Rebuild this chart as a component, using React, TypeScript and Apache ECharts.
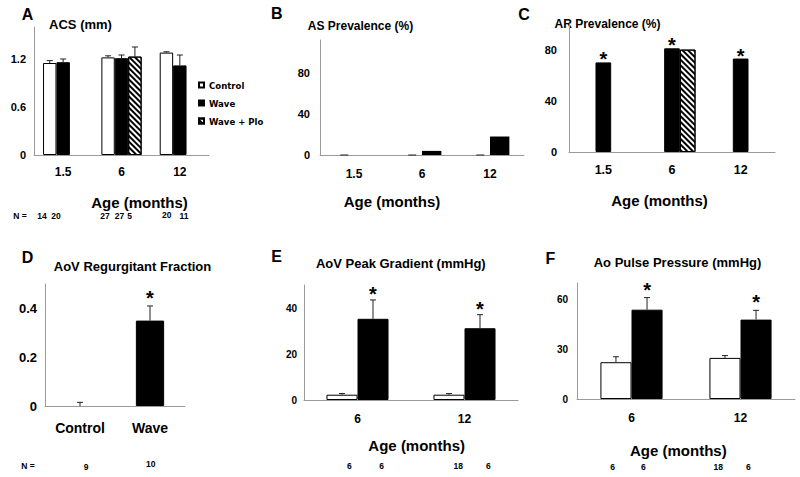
import React, { useEffect, useRef } from 'react';
import * as echarts from 'echarts';

// ---------- data ----------
const ageCats3 = ['1.5', '6', '12'];
const ageCats2 = ['6', '12'];
const groupCats = ['Control', 'Wave'];

// A: ACS (mm)
const acsControl = [1.15, 1.22, 1.28];
const acsControlSem = [0.03, 0.02, 0.01];
const acsWave = [1.16, 1.21, 1.12];
const acsWaveSem = [0.04, 0.04, 0.13];
const acsPlo = [null, 1.23, null];
const acsPloSem = [null, 0.12, null];

// B: AS prevalence (%)
const asControl = [0, 0, 0];
const asWave = [0, 4, 18];

// C: AR prevalence (%)
const arControl = [0, 0, 0];
const arWave = [70, 81, 73];
const arPlo = [null, 80, null];
const arWaveStars = [1, 1, 1];

// D: AoV regurgitant fraction
const rfValues = [0, 0.35];
const rfSem = [0.015, 0.06];
const rfStars = [0, 1];

// E: AoV peak gradient (mmHg)
const pgControl = [2.3, 2.3];
const pgControlSem = [0.5, 0.5];
const pgWave = [35.3, 31.2];
const pgWaveSem = [8.2, 5.9];
const pgWaveStars = [1, 1];

// F: Ao pulse pressure (mmHg)
const ppControl = [22.2, 24.8];
const ppControlSem = [3.3, 1.4];
const ppWave = [53.9, 47.9];
const ppWaveSem = [7.3, 5.6];
const ppWaveStars = [1, 1];

// N labels
const nA = ['14', '20', '27', '27', '5', '20', '11'];
const nD = ['9', '10'];
const nE = ['6', '6', '18', '6'];
const nF = ['6', '6', '18', '6'];

const FONT = '"Liberation Sans", Arial, sans-serif';
const NARROW = '"Liberation Sans Narrow", "DejaVu Sans Condensed", "Liberation Sans", sans-serif';
const AXIS_COLOR = '#9a9a9a';

type Style = 'white' | 'black' | 'blackflat' | 'hatch' | 'none';

const hatchDecal = {
  symbol: 'rect',
  symbolSize: 1,
  color: '#000',
  backgroundColor: '#fff',
  dashArrayX: [1, 0],
  dashArrayY: [1.5, 1.5],
  rotation: Math.PI / 4,
};

function itemStyleFor(s: Style) {
  if (s === 'white') return { color: '#fff', borderColor: '#000', borderWidth: 1 };
  if (s === 'black') return { color: '#000', borderColor: '#000', borderWidth: 1 };
  if (s === 'blackflat') return { color: '#000', borderWidth: 0 };
  if (s === 'hatch') return { color: '#fff', borderColor: '#000', borderWidth: 1, decal: hatchDecal };
  return { color: '#fff', borderWidth: 0 };
}

interface SeriesDef {
  name: string;
  values: (number | null)[];
  sem?: (number | null)[];
  stars?: number[];
  style: Style;
  itemStyles?: Style[];
  cap: number;
  zeroCap?: boolean;
}

interface PanelDef {
  grid: { left: number; top: number; width: number; height: number };
  cats: string[];
  yMax: number;
  yInterval: number;
  decimals: number;
  yLabelSize: number;
  yLabelMargin: number;
  xLabelSize: number;
  xLabelMargin: number;
  gap: number;
  starOff: number;
  series: SeriesDef[];
}

const panels: PanelDef[] = [
  {
    grid: { left: 34, top: 27, width: 175, height: 128 },
    cats: ageCats3, yMax: 1.6, yInterval: 0.6, decimals: 1,
    yLabelSize: 11, yLabelMargin: 8, xLabelSize: 12, xLabelMargin: 11,
    gap: 0.31, starOff: 8,
    series: [
      { name: 'Control', values: acsControl, sem: acsControlSem, style: 'white', cap: 3 },
      { name: 'Wave', values: acsWave, sem: acsWaveSem, style: 'black', cap: 3 },
      { name: 'Wave + Plo', values: acsPlo, sem: acsPloSem, style: 'hatch', cap: 3 },
    ],
  },
  {
    grid: { left: 320, top: 40, width: 204, height: 115 },
    cats: ageCats3, yMax: 112, yInterval: 40, decimals: 0,
    yLabelSize: 11, yLabelMargin: 10, xLabelSize: 12, xLabelMargin: 13,
    gap: 0.43, starOff: 8,
    series: [
      { name: 'B Control', values: asControl, style: 'none', cap: 4, zeroCap: true },
      { name: 'B Wave', values: asWave, style: 'blackflat', cap: 0 },
    ],
  },
  {
    grid: { left: 569, top: 24, width: 206, height: 128 },
    cats: ageCats3, yMax: 100, yInterval: 40, decimals: 0,
    yLabelSize: 11, yLabelMargin: 12, xLabelSize: 12.5, xLabelMargin: 11,
    gap: 0.315, starOff: 7,
    series: [
      { name: 'C Control', values: arControl, style: 'none', cap: 0 },
      { name: 'C Wave', values: arWave, stars: arWaveStars, style: 'black', cap: 0 },
      { name: 'C Wave + Plo', values: arPlo, style: 'hatch', cap: 0 },
    ],
  },
  {
    grid: { left: 45, top: 284, width: 140, height: 122 },
    cats: groupCats, yMax: 0.5, yInterval: 0.2, decimals: 1,
    yLabelSize: 13, yLabelMargin: 8, xLabelSize: 14, xLabelMargin: 15,
    gap: 0.596, starOff: 12,
    series: [
      { name: 'D Fraction', values: rfValues, sem: rfSem, stars: rfStars, style: 'black', itemStyles: ['none', 'black'], cap: 3 },
    ],
  },
  {
    grid: { left: 304, top: 285, width: 214, height: 115 },
    cats: ageCats2, yMax: 50, yInterval: 20, decimals: 0,
    yLabelSize: 10, yLabelMargin: 7, xLabelSize: 12, xLabelMargin: 13,
    gap: 0.42, starOff: 10,
    series: [
      { name: 'E Control', values: pgControl, sem: pgControlSem, style: 'white', cap: 3 },
      { name: 'E Wave', values: pgWave, sem: pgWaveSem, stars: pgWaveStars, style: 'black', cap: 3 },
    ],
  },
  {
    grid: { left: 577, top: 283, width: 218, height: 116 },
    cats: ageCats2, yMax: 70, yInterval: 30, decimals: 0,
    yLabelSize: 10, yLabelMargin: 9, xLabelSize: 12, xLabelMargin: 13,
    gap: 0.43, starOff: 12,
    series: [
      { name: 'F Control', values: ppControl, sem: ppControlSem, style: 'white', cap: 3 },
      { name: 'F Wave', values: ppWave, sem: ppWaveSem, stars: ppWaveStars, style: 'black', cap: 3 },
    ],
  },
];

function txt(text: string, x: number, y: number, size: number, family = FONT, weight = 'bold') {
  return {
    type: 'text',
    x,
    y,
    silent: true,
    style: {
      text,
      fill: '#000',
      fontSize: size,
      fontFamily: family,
      fontWeight: weight,
      align: 'center',
      verticalAlign: 'middle',
    },
  };
}

function buildOption() {
  const grid: any[] = [];
  const xAxis: any[] = [];
  const yAxis: any[] = [];
  const series: any[] = [];

  panels.forEach((p, gi) => {
    grid.push({ ...p.grid, outerBoundsMode: 'none', containLabel: false });
    xAxis.push({
      type: 'category',
      gridIndex: gi,
      data: p.cats,
      axisLine: { lineStyle: { color: AXIS_COLOR, width: 1 } },
      axisTick: { show: false },
      axisLabel: {
        fontFamily: FONT, fontWeight: 'bold', fontSize: p.xLabelSize, color: '#000', margin: p.xLabelMargin,
      },
    });
    yAxis.push({
      type: 'value',
      gridIndex: gi,
      min: 0,
      max: p.yMax,
      interval: p.yInterval,
      splitLine: { show: false },
      axisTick: { show: false },
      axisLine: { show: true, lineStyle: { color: AXIS_COLOR, width: 1 } },
      axisLabel: {
        fontFamily: FONT, fontWeight: 'bold', fontSize: p.yLabelSize, color: '#000', margin: p.yLabelMargin,
        formatter: (v: number) => {
          const k = v / p.yInterval;
          if (Math.abs(k - Math.round(k)) > 1e-6) return '';
          if (v === 0) return '0';
          return v.toFixed(p.decimals);
        },
      },
    });

    const n = p.series.length;
    p.series.forEach((s, si) => {
      series.push({
        type: 'bar',
        name: s.name,
        xAxisIndex: gi,
        yAxisIndex: gi,
        barGap: '0%',
        barCategoryGap: `${p.gap * 100}%`,
        itemStyle: itemStyleFor(s.style),
        data: s.values.map((v, i) =>
          s.itemStyles ? { value: v, itemStyle: itemStyleFor(s.itemStyles[i]) } : v
        ),
      });

      const errData: number[][] = [];
      s.values.forEach((v, i) => {
        if (v == null) return;
        const sem = s.sem ? s.sem[i] || 0 : 0;
        const star = s.stars ? s.stars[i] : 0;
        errData.push([i, v, v + sem, star]);
      });
      const capHalf = s.cap;
      const zeroCap = !!s.zeroCap;
      const gap = p.gap;
      const starOff = p.starOff;
      series.push({
        type: 'custom',
        name: s.name + ' err',
        xAxisIndex: gi,
        yAxisIndex: gi,
        z: 5,
        silent: true,
        data: errData,
        renderItem: (params: any, api: any) => {
          const cat = api.value(0);
          const v = api.value(1);
          const top = api.value(2);
          const star = api.value(3);
          const band = api.size([1, 0])[0];
          const groupW = band * (1 - gap);
          const bw = groupW / n;
          const cx = api.coord([cat, 0])[0] - groupW / 2 + bw * (si + 0.5);
          const yv = api.coord([cat, v])[1];
          const yt = api.coord([cat, top])[1];
          const children: any[] = [];
          const ls = { stroke: '#222', lineWidth: 1 };
          if (top > v) {
            children.push({ type: 'line', shape: { x1: cx, y1: yv, x2: cx, y2: yt }, style: ls });
          }
          if ((top > v || zeroCap) && capHalf > 0) {
            children.push({ type: 'line', shape: { x1: cx - capHalf, y1: yt, x2: cx + capHalf, y2: yt }, style: ls });
          }
          if (star) {
            children.push({
              type: 'text',
              x: cx,
              y: yt - starOff + 4,
              style: {
                text: '*', fill: '#000', fontSize: 20, fontFamily: FONT, fontWeight: 'bold',
                align: 'center', verticalAlign: 'middle',
              },
            });
          }
          return { type: 'group', children };
        },
      });
    });
  });

  const graphic: any[] = [
    // panel letters
    txt('A', 27.5, 14, 16), txt('B', 276.7, 13.5, 16), txt('C', 524, 14, 16),
    txt('D', 27.5, 257.5, 16), txt('E', 276.7, 256, 16), txt('F', 550.3, 258, 16),
    // titles
    txt('ACS (mm)', 80.5, 24, 13), txt('AS Prevalence (%)', 360.5, 26, 12),
    txt('AR Prevalence (%)', 607.5, 24, 12), txt('AoV Regurgitant Fraction', 132.5, 266.7, 13),
    txt('AoV Peak Gradient (mmHg)', 400.8, 263.3, 13), txt('Ao Pulse Pressure (mmHg)', 677.5, 262.3, 13),
    // axis names
    txt('Age (months)', 139.5, 202, 15), txt('Age (months)', 392, 201.7, 15),
    txt('Age (months)', 659.5, 200, 15), txt('Age (months)', 416.7, 445, 15),
    txt('Age (months)', 678.3, 450, 15),
    // N rows
    txt('N =', 20, 216, 8.5), txt('N =', 28, 466, 8.5),
  ];
  const nAx = [42, 56, 105, 119.5, 129.7, 166.7, 184];
  const nAy = [216, 216, 216, 216, 216, 215, 216];
  nA.forEach((t, i) => graphic.push(txt(t, nAx[i], nAy[i], 8.5)));
  const nDx = [86, 150.7];
  const nDy = [467, 464];
  nD.forEach((t, i) => graphic.push(txt(t, nDx[i], nDy[i], 8.5)));
  const nEx = [349.3, 381.7, 458.3, 488.3];
  nE.forEach((t, i) => graphic.push(txt(t, nEx[i], 465.7, 8.5)));
  const nFx = [612.7, 643.3, 718.3, 748.3];
  nF.forEach((t, i) => graphic.push(txt(t, nFx[i], 466.7, 8.5)));

  return {
    animation: false,
    backgroundColor: '#fff',
    grid,
    xAxis,
    yAxis,
    series,
    graphic,
    legend: {
      orient: 'vertical',
      left: 193,
      top: 75,
      itemWidth: 5,
      itemHeight: 5,
      itemGap: 8,
      icon: 'rect',
      selectedMode: false,
      data: ['Control', 'Wave', 'Wave + Plo'],
      textStyle: { fontFamily: NARROW, fontWeight: 'bold', fontSize: 9.5, color: '#000' },
    },
  };
}

export default function App() {
  const ref = useRef<HTMLDivElement>(null);
  useEffect(() => {
    document.body.style.margin = '0';
    if (!ref.current) return;
    const chart = echarts.init(ref.current, undefined, { renderer: 'svg' });
    chart.setOption(buildOption() as any);
    return () => chart.dispose();
  }, []);
  return <div ref={ref} style={{ width: 800, height: 477 }} />;
}
